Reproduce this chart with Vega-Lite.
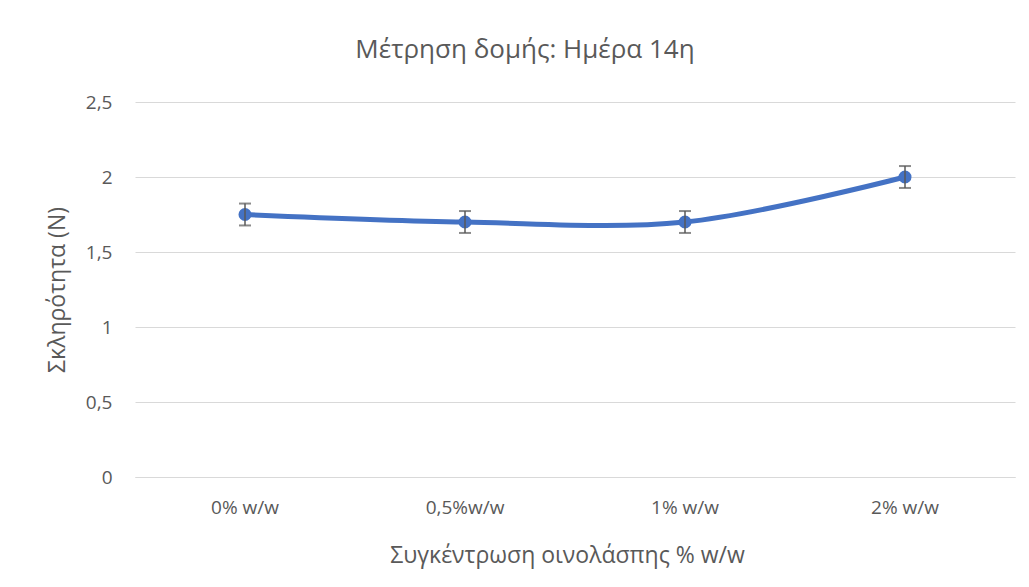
{
  "$schema": "https://vega.github.io/schema/vega-lite/v6.json",
  "autosize": "none",
  "width": 880,
  "height": 375,
  "padding": {"left": 135, "top": 102, "right": 14, "bottom": 110},
  "background": "white",
  "title": {
    "text": "Μέτρηση δομής: Ημέρα 14η",
    "font": "Open Sans",
    "fontSize": 26,
    "fontWeight": "normal",
    "color": "#595959",
    "anchor": "middle",
    "offset": 30,
    "dx": -50
  },
  "config": {
    "view": {"stroke": null},
    "axis": {
      "labelFont": "Open Sans",
      "titleFont": "Open Sans",
      "labelColor": "#595959",
      "titleColor": "#595959",
      "labelFontSize": 19,
      "titleFontSize": 23,
      "titleFontWeight": "normal"
    }
  },
  "data": {
    "values": [
      {"c": "0% w/w", "v": 1.75, "lo": 1.677, "hi": 1.823},
      {"c": "0,5%w/w", "v": 1.70, "lo": 1.627, "hi": 1.773},
      {"c": "1% w/w", "v": 1.70, "lo": 1.627, "hi": 1.773},
      {"c": "2% w/w", "v": 2.00, "lo": 1.927, "hi": 2.073}
    ]
  },
  "encoding": {
    "x": {
      "field": "c",
      "type": "nominal",
      "sort": null,
      "scale": {"paddingInner": 0, "paddingOuter": 0},
      "axis": {
        "title": "Συγκέντρωση οινολάσπης % w/w",
        "labelAngle": 0,
        "ticks": false,
        "domain": true,
        "domainColor": "#d9d9d9",
        "labelPadding": 21,
        "titlePadding": 27,
        "titleX": 432
      }
    }
  },
  "layer": [
    {
      "mark": {"type": "line", "interpolate": "catmull-rom", "color": "#4472C4", "strokeWidth": 5},
      "encoding": {
        "y": {
          "field": "v",
          "type": "quantitative",
          "scale": {"domain": [0, 2.5], "nice": false, "zero": true},
          "axis": {
            "title": "Σκληρότητα (N)",
            "values": [0, 0.5, 1, 1.5, 2, 2.5],
            "format": ",.1~f",
            "labelExpr": "replace(datum.label, '.', ',')",
            "grid": true,
            "gridColor": "#d9d9d9",
            "domain": false,
            "ticks": false,
            "labelPadding": 23,
            "titlePadding": 16
          }
        }
      }
    },
    {
      "mark": {"type": "point", "filled": true, "opacity": 1, "color": "#4472C4", "size": 170},
      "encoding": {"y": {"field": "v", "type": "quantitative"}}
    },
    {
      "mark": {"type": "rule", "color": "#595959", "strokeWidth": 1.5},
      "encoding": {
        "y": {"field": "lo", "type": "quantitative"},
        "y2": {"field": "hi"}
      }
    },
    {
      "mark": {"type": "tick", "orient": "horizontal", "color": "#595959", "thickness": 2, "size": 12},
      "encoding": {"y": {"field": "lo", "type": "quantitative"}}
    },
    {
      "mark": {"type": "tick", "orient": "horizontal", "color": "#595959", "thickness": 2, "size": 12},
      "encoding": {"y": {"field": "hi", "type": "quantitative"}}
    }
  ]
}
